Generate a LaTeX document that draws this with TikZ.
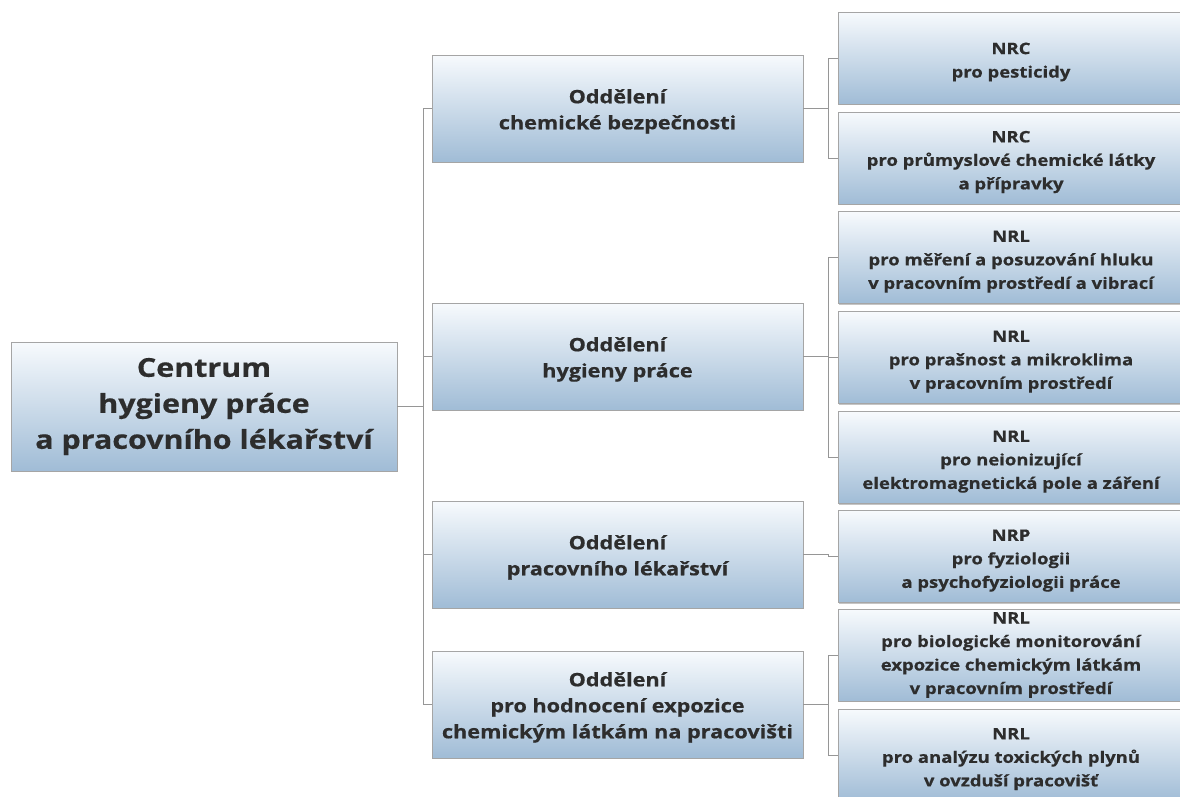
\documentclass[tikz,border=0pt]{standalone}
\usepackage{fontspec}
\setmainfont{Open Sans}[FakeStretch=1.17, BoldFeatures={FakeBold=0.6}]
\usetikzlibrary{shadows}
\definecolor{topc}{RGB}{247,250,253}
\definecolor{botc}{RGB}{160,188,214}
\definecolor{txt}{RGB}{45,45,45}
\definecolor{edgec}{RGB}{165,165,165}
\definecolor{connc}{RGB}{150,150,150}
\newcommand\midstrut{\rule{0pt}{20pt}}
\newcommand\leafstrut{\rule{0pt}{19.5pt}}
\tikzset{
 box/.style={draw=edgec, line width=0.8pt, top color=topc, bottom color=botc, align=center, text=txt, inner sep=2pt,
   drop shadow={shadow xshift=1.2pt, shadow yshift=-1.2pt, fill=black!45, opacity=0.5}},
 rootbox/.style={box, minimum width=386pt, minimum height=129pt, font=\bfseries\fontsize{26}{36}\selectfont},
 midbox/.style={box, minimum width=371pt, minimum height=107pt, font=\bfseries\fontsize{18.5}{26}\selectfont},
 leafbox/.style={box, minimum width=346pt, minimum height=92pt, font=\bfseries\fontsize{15.8}{23.5}\selectfont},
 link/.style={draw=connc, line width=0.9pt}
}
\begin{document}
\begin{tikzpicture}[x=1pt,y=-1pt]
\useasboundingbox[fill=white] (0,0) rectangle (1180,796);
% root
\node[rootbox] (root) at (204,406.5) {Centrum\\hygieny práce\\a pracovního lékařství};
% middle
\node[midbox] (m1) at (617.5,108.5) {\midstrut Oddělení\\chemické bezpečnosti};
\node[midbox] (m2) at (617.5,356.5) {\midstrut Oddělení\\hygieny práce};
\node[midbox] (m3) at (617.5,554.5) {\midstrut Oddělení\\pracovního lékařství};
\node[midbox] (m4) at (617.5,704.5) {\midstrut Oddělení\\pro hodnocení expozice\\chemickým látkám na pracovišti};
% leaves
\node[leafbox] (l1) at (1011,58) {\leafstrut NRC\\pro pesticidy};
\node[leafbox] (l2) at (1011,158) {\leafstrut NRC\\pro průmyslové chemické látky\\a přípravky};
\node[leafbox] (l3) at (1011,257.5) {\leafstrut NRL\\pro měření a posuzování hluku\\v pracovním prostředí a vibrací};
\node[leafbox] (l4) at (1011,357.5) {\leafstrut NRL\\pro prašnost a mikroklima\\v pracovním prostředí};
\node[leafbox] (l5) at (1011,457.5) {\leafstrut NRL\\pro neionizující\\elektromagnetická pole a záření};
\node[leafbox] (l6) at (1011,556.5) {\leafstrut NRP\\pro fyziologii\\a psychofyziologii práce};
\node[leafbox] (l7) at (1011,655) {NRL\\pro biologické monitorování\\expozice chemickým látkám\\v pracovním prostředí};
\node[leafbox] (l8) at (1011,755) {\leafstrut NRL\\pro analýzu toxických plynů\\v ovzduší pracovišť};
% connectors root -> middle
\foreach \m in {m1,m2,m3,m4}
  \draw[link] (root.east) -- ++(26,0) |- (\m.west);
% middle -> leaves
\foreach \l in {l1,l2} \draw[link] (m1.east) -- ++(25,0) |- (\l.west);
\foreach \l in {l3,l4,l5} \draw[link] (m2.east) -- ++(25,0) |- (\l.west);
\draw[link] (m3.east) -- ++(25,0) |- (l6.west);
\foreach \l in {l7,l8} \draw[link] (m4.east) -- ++(25,0) |- (\l.west);
\end{tikzpicture}
\end{document}
